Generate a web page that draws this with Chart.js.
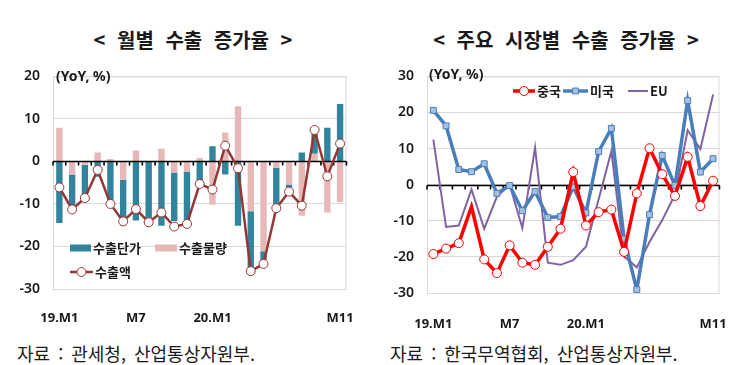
<!DOCTYPE html>
<html lang="ko">
<head>
<meta charset="utf-8">
<script src="https://cdn.jsdelivr.net/npm/chart.js@4.4.1/dist/chart.umd.min.js"></script>
<style>
    body { margin: 0; width: 750px; height: 365px; background: #fff; position: relative; overflow: hidden;
           font-family: "Noto Sans CJK KR", "Noto Sans", sans-serif; color: #1a1a1a; }
    .title { position: absolute; top: 26px; line-height: 28px; font-size: 20px; font-weight: bold;
             white-space: nowrap; word-spacing: 6px; transform: translateX(-50%); }
    .box { position: absolute; top: 55px; width: 375px; height: 275px; }
    .src { position: absolute; top: 341px; line-height: 24px; font-size: 18px; white-space: nowrap; word-spacing: 3px; }
</style>
</head>
<body>

<div class="title" style="left:193px">&lt; 월별 수출 증가율 &gt;</div>
<div class="title" style="left:566px">&lt; 주요 시장별 수출 증가율 &gt;</div>

<div class="box" style="left:0"><canvas id="leftChart" width="375" height="275"></canvas></div>
<div class="box" style="left:375px"><canvas id="rightChart" width="375" height="275"></canvas></div>

<div class="src" style="left:17px">자료 : 관세청, 산업통상자원부.</div>
<div class="src" style="left:390px">자료 : 한국무역협회, 산업통상자원부.</div>

<script>
// ================= DATA =================
// 2019.1 ~ 2020.11, YoY %
const xLabels = ['19.M1', '', '', '', '', '', 'M7', '', '', '', '', '',
                 '20.M1', '', '', '', '', '', '', '', '', '', 'M11'];

// left: monthly export growth
const unitPrice = [-14.5, -8.9, -7.9, -3.6, -10.0, -10.7, -13.9, -13.6, -15.1, -11.4, -11.5, -6.1,
                   3.6, -3.1, -15.1, -13.5, -2.2, -8.7, -0.7, 2.1, 5.6, 7.9, 13.5];
const volume = [7.9, -3.1, -0.8, 2.1, 0.6, -4.3, 2.6, 0, 3.0, -2.6, -2.5, 0.8,
                -10.2, 6.8, 13.0, -11.7, -21.1, -1.5, -5.4, -12.8, 1.8, -12.0, -9.6];
const exportsTotal = [-6.1, -11.3, -8.6, -2.0, -10.0, -14.1, -11.2, -14.3, -12.0, -15.3, -14.7, -5.3,
                      -6.6, 3.7, -1.6, -25.8, -24.1, -11.0, -7.1, -10.4, 7.4, -3.5, 4.2];

// right: growth by market
const china = [-19.2, -17.7, -16.2, -6.1, -20.7, -24.5, -16.8, -21.6, -22.2, -17.2, -12.2, 3.5,
               -11.3, -7.6, -6.9, -18.6, -2.4, 10.1, 2.9, -3.1, 7.7, -5.9, 1.1];
const usa = [20.6, 16.3, 4.2, 3.6, 5.8, -2.4, -0.2, -7.2, -1.9, -9.1, -8.8, -0.6,
             -7.8, 9.2, 15.6, -15.0, -29.1, -8.3, 8.1, -0.2, 23.3, 3.5, 7.2];
const eu = [12.5, -11.7, -11.3, -1.3, -12.2, -3.3, 0, -12.0, 10.3, -21.6, -22.2, -20.9,
            -17.2, -4.0, 9.3, -19.9, -22.9, -15.9, -9.8, -2.8, 15.1, 9.9, 25.0];

const leftRange = [-30, 20];
const rightRange = [-30, 30];

// ================= HELPERS =================
const TICK_FONT = { family: '"Noto Sans", sans-serif', size: 14, weight: '600' };
const X_FONT = { family: '"Noto Sans", sans-serif', size: 13, weight: 'bold' };
const KR = '"Noto Sans CJK KR", sans-serif';

function drawZeroAxis(chart) {
    const { ctx, chartArea: a, scales: { x, y } } = chart;
    const y0 = Math.round(y.getPixelForValue(0)) + 0.5;
    const step = x.getPixelForValue(1) - x.getPixelForValue(0);
    const first = x.getPixelForValue(0) - step / 2;
    ctx.save();
    ctx.strokeStyle = '#000';
    ctx.lineWidth = 1.6;
    ctx.beginPath();
    ctx.moveTo(a.left, y0);
    ctx.lineTo(a.right, y0);
    for (let i = 0; i <= xLabels.length; i++) {
        const bx = first + i * step;
        ctx.moveTo(bx, y0);
        ctx.lineTo(bx, y0 + 4);
    }
    ctx.stroke();
    ctx.restore();
}

// frame, zero line (under or over bars), unit note and legend
const decor = {
    id: 'decor',
    beforeDraw(chart) { chart.$zeroDone = false; },
    beforeDatasetsDraw(chart, args, opts) {
        const { ctx, chartArea: a } = chart;
        ctx.save();
        ctx.strokeStyle = '#d9d9d9';
        ctx.lineWidth = 1;
        ctx.strokeRect(a.left + 0.5, a.top + 0.5, a.right - a.left - 1, a.bottom - a.top);
        ctx.restore();
        if (!opts.zeroOverBars) {
            drawZeroAxis(chart);
            chart.$zeroDone = true;
        }
    },
    beforeDatasetDraw(chart, args, opts) {
        if (chart.$zeroDone) return;
        if (args.meta.type === 'line') {
            drawZeroAxis(chart);
            chart.$zeroDone = true;
        }
    },
    afterDraw(chart, args, opts) {
        const ctx = chart.ctx;
        ctx.save();
        ctx.fillStyle = '#1a1a1a';
        ctx.textBaseline = 'middle';
        ctx.font = 'bold 14px "Noto Sans", sans-serif';
        ctx.fillText('(YoY, %)', opts.note[0], opts.note[1]);

        ctx.font = 'bold 13px ' + KR;
        opts.items.forEach(it => {
            if (it.kind === 'box') {
                ctx.fillStyle = it.color;
                ctx.fillRect(it.x, it.y - 3.5, it.w, 7);
            } else {
                ctx.strokeStyle = it.color;
                ctx.lineWidth = it.lw;
                ctx.beginPath();
                ctx.moveTo(it.x, it.y);
                ctx.lineTo(it.x + it.w, it.y);
                ctx.stroke();
                if (it.marker) {
                    ctx.fillStyle = it.fill;
                    ctx.strokeStyle = it.color;
                    ctx.lineWidth = 1;
                    ctx.beginPath();
                    if (it.marker === 'circle') {
                        ctx.arc(it.x + it.w / 2, it.y, it.r, 0, Math.PI * 2);
                    } else {
                        ctx.rect(it.x + it.w / 2 - it.r * 0.7, it.y - it.r * 0.7, it.r * 1.4, it.r * 1.4);
                    }
                    ctx.fill();
                    ctx.stroke();
                }
            }
            ctx.fillStyle = '#1a1a1a';
            ctx.fillText(it.text, it.x + it.w + 2, it.y + 0.5);
        });
        ctx.restore();
    }
};

function baseScales(range, axisWidth, axisHeight, pad, stacked) {
    return {
        x: {
            stacked: stacked,
            offset: true,
            grid: { display: false, drawTicks: false, offset: true },
            border: { display: false },
            ticks: { autoSkip: false, maxRotation: 0, padding: pad, color: '#1a1a1a', font: X_FONT },
            afterFit(s) { s.height = axisHeight; }
        },
        y: {
            stacked: stacked,
            min: range[0],
            max: range[1],
            grid: { color: '#d9d9d9', lineWidth: 1, drawTicks: false },
            border: { display: false },
            ticks: { stepSize: 10, padding: 13, color: '#1a1a1a', font: TICK_FONT },
            afterFit(s) { s.width = axisWidth; }
        }
    };
}

// ================= LEFT CHART =================
new Chart(document.getElementById('leftChart'), {
    data: {
        labels: xLabels,
        datasets: [
            {
                type: 'line', label: '수출액', data: exportsTotal, stack: 'total', order: 0,
                borderColor: '#953735', borderWidth: 2.5, tension: 0,
                pointRadius: 4.5, pointBackgroundColor: '#fff', pointBorderColor: '#953735', pointBorderWidth: 1
            },
            {
                type: 'bar', label: '수출물량', data: volume, stack: 'parts', order: 1,
                backgroundColor: '#e6b9b8', barPercentage: 0.5, categoryPercentage: 1
            },
            {
                type: 'bar', label: '수출단가', data: unitPrice, stack: 'parts', order: 2,
                backgroundColor: '#31849b', barPercentage: 0.5, categoryPercentage: 1
            }
        ]
    },
    options: {
        responsive: false,
        animation: false,
        devicePixelRatio: 1,
        layout: { padding: { top: 10, right: 16, left: 0, bottom: 0 } },
        scales: baseScales(leftRange, 53, 41, 21, true),
        plugins: {
            legend: { display: false },
            tooltip: { enabled: false },
            decor: {
                zeroOverBars: true,
                note: [56, 22],
                items: [
                    { kind: 'box', color: '#31849b', x: 70, y: 193, w: 21, text: '수출단가' },
                    { kind: 'box', color: '#e6b9b8', x: 155, y: 193, w: 22, text: '수출물량' },
                    { kind: 'line', color: '#953735', lw: 2.5, x: 70, y: 217, w: 23, text: '수출액',
                      marker: 'circle', r: 4.5, fill: '#fff' }
                ]
            }
        }
    },
    plugins: [decor]
});

// ================= RIGHT CHART =================
new Chart(document.getElementById('rightChart'), {
    type: 'line',
    data: {
        labels: xLabels,
        datasets: [
            {
                label: '중국', data: china, order: 0,
                borderColor: '#ff0000', borderWidth: 3.5, tension: 0,
                pointStyle: 'circle', pointRadius: china.map((v, i) => i === 3 ? 0 : 4.5),
                pointBackgroundColor: '#fff', pointBorderColor: '#ff0000', pointBorderWidth: 1
            },
            {
                label: '미국', data: usa, order: 1,
                borderColor: '#4a7ebb', borderWidth: 3.5, tension: 0,
                pointStyle: 'rect', pointRadius: 4.2,
                pointBackgroundColor: '#a5c0e0', pointBorderColor: '#4a7ebb', pointBorderWidth: 1
            },
            {
                label: 'EU', data: eu, order: 2,
                borderColor: '#8064a2', borderWidth: 2, tension: 0, pointRadius: 0
            }
        ]
    },
    options: {
        responsive: false,
        animation: false,
        devicePixelRatio: 1,
        layout: { padding: { top: 10, right: 16, left: 0, bottom: 0 } },
        scales: baseScales(rightRange, 52, 37, 23, false),
        plugins: {
            legend: { display: false },
            tooltip: { enabled: false },
            decor: {
                zeroOverBars: false,
                note: [54, 20],
                items: [
                    { kind: 'line', color: '#ff0000', lw: 3.5, x: 138, y: 36, w: 22, text: '중국',
                      marker: 'circle', r: 4.5, fill: '#fff' },
                    { kind: 'line', color: '#4a7ebb', lw: 3.5, x: 188, y: 36, w: 25, text: '미국',
                      marker: 'rect', r: 4.2, fill: '#a5c0e0' },
                    { kind: 'line', color: '#8064a2', lw: 2, x: 253, y: 36, w: 20, text: 'EU' }
                ]
            }
        }
    },
    plugins: [decor]
});
</script>
</body>
</html>
